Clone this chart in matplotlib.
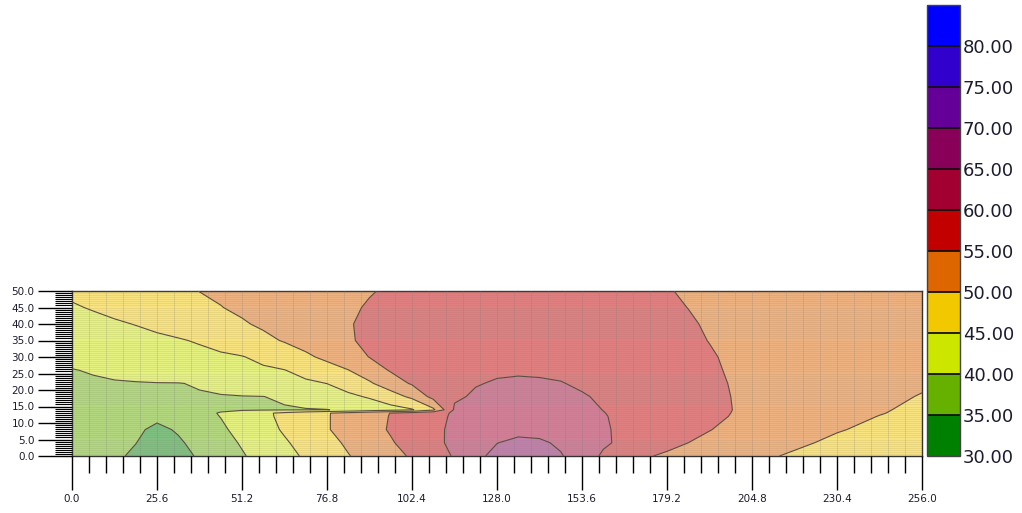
import numpy as np
import matplotlib
matplotlib.use("Agg")
import matplotlib.pyplot as plt
from matplotlib.colors import ListedColormap, BoundaryNorm
from matplotlib.ticker import MultipleLocator, FixedLocator, FormatStrFormatter, NullLocator
import matplotlib.cm as cm

# ---------------- data ----------------
x_nodes = [0, 6.4, 12.8, 19.2, 25.6, 32, 38.4, 44.8, 51.2, 57.6, 64, 70.4, 76.8,
           83.2, 89.6, 96, 102.4, 108.8, 115.2, 121.6, 128, 134.4, 140.8, 147.2,
           153.6, 160, 166.4, 172.8, 179.2, 185.6, 192, 198.4, 204.8, 217.6,
           230.4, 243.2, 256]
y_nodes = [0, 4, 8, 12, 13, 14, 18, 22, 26, 30, 35, 40, 45, 50]

z_y00 = [38.0, 37.5, 36.0, 34.0, 32.0, 33.3, 35.6, 37.6, 39.6, 41.6,
         43.6, 45.6, 47.7, 49.8, 51.7, 53.6, 55.5, 57.9, 60.4, 63.7,
         66.5, 67.8, 67.3, 65.4, 62.3, 59.4, 57.4, 55.4, 54.3, 53.5,
         52.7, 51.9, 51.1, 49.4, 48.4, 47.4, 46.5]
z_y04 = [38.3, 37.7, 36.5, 35.1, 32.5, 34.4, 36.4, 38.4, 40.4, 42.3,
         44.5, 46.5, 48.6, 50.7, 52.6, 54.6, 56.7, 58.9, 61.0, 63.0,
         64.9, 66.2, 65.8, 64.2, 62.4, 60.6, 59.1, 57.7, 56.3, 55.0,
         54.2, 53.3, 52.5, 50.8, 49.1, 48.0, 47.0]
z_y08 = [38.6, 38.2, 37.2, 35.8, 34.0, 35.45, 37.4, 39.3, 41.3, 43.4,
         45.5, 47.6, 49.7, 51.6, 53.5, 55.4, 57.3, 59.2, 60.7, 62.0,
         63.0, 63.5, 63.3, 62.6, 61.6, 60.4, 59.3, 58.3, 57.2, 56.2,
         55.1, 54.3, 53.5, 51.9, 50.3, 49.0, 48.0]
z_y12 = [38.8, 38.5, 37.8, 36.8, 36.0, 37.3, 38.6, 40.1, 42.0, 44.0,
         46.0, 47.9, 49.7, 51.6, 53.4, 55.2, 57.1, 58.9, 60.5, 61.4,
         62.1, 62.5, 62.3, 61.9, 61.2, 60.2, 59.3, 58.4, 57.5, 56.6,
         55.8, 54.9, 54.3, 52.8, 51.4, 49.9, 48.8]
z_y13 = [38.9, 38.6, 38.0, 37.1, 36.4, 37.4, 38.7, 40.3, 42.2, 44.1,
         46.0, 47.9, 49.7, 51.5, 53.3, 55.1, 57.0, 58.8, 60.4, 61.2,
         61.9, 62.2, 62.0, 61.6, 61.0, 60.1, 59.2, 58.4, 57.5, 56.7,
         55.8, 55.0, 54.3, 52.9, 51.5, 50.2, 48.9]
z_y14 = [39.0, 39.05, 39.1, 39.15, 39.2, 39.25, 39.3, 39.4, 39.5, 39.6,
         39.7, 39.8, 39.9, 40.7, 42.0, 43.3, 44.6, 49.1, 60.6, 61.1,
         61.7, 62.0, 61.8, 61.4, 60.8, 59.95, 59.1, 58.3, 57.5, 56.7,
         55.9, 55.05, 54.4, 53.0, 51.7, 50.4, 49.05]
z_y18 = [39.3, 39.37, 39.45, 39.52, 39.6, 39.67, 39.75, 39.8, 39.9, 39.96,
         40.5, 41.7, 42.9, 44.0, 45.5, 47.9, 51.0, 56.5, 59.4, 60.5,
         61.0, 61.3, 61.2, 60.9, 60.3, 59.5, 58.8, 58.0, 57.3, 56.5,
         55.8, 55.0, 54.4, 53.3, 52.1, 50.9, 49.8]
z_y22 = [39.6, 39.67, 39.75, 39.82, 39.89, 39.9, 40.25, 41.0, 41.8, 42.6,
         43.5, 44.3, 45.04, 47.2, 49.4, 52.6, 55.5, 56.9, 58.4, 59.8,
         60.3, 60.5, 60.4, 60.15, 59.5, 58.9, 58.2, 57.6, 56.9, 56.2,
         55.6, 54.9, 54.2, 53.3, 52.4, 51.5, 50.5]
z_y26 = [39.9, 40.2, 40.7, 41.2, 41.8, 42.3, 42.8, 43.3, 43.8, 44.4,
         44.9, 46.4, 48.1, 49.9, 52.6, 55.4, 56.8, 57.8, 58.6, 59.1,
         59.5, 59.6, 59.5, 59.3, 58.9, 58.5, 57.9, 57.3, 56.7, 56.1,
         55.5, 54.7, 54.1, 53.3, 52.6, 51.9, 51.3]
z_y30 = [40.8, 41.3, 41.8, 42.3, 42.8, 43.3, 43.8, 44.3, 44.8, 46.0,
         47.6, 49.2, 51.0, 53.0, 55.1, 56.4, 57.2, 57.7, 58.1, 58.4,
         58.6, 58.7, 58.6, 58.4, 58.1, 57.7, 57.2, 56.7, 56.2, 55.7,
         55.2, 54.7, 54.1, 53.4, 52.7, 52.0, 51.4]
z_y35 = [42.1, 42.6, 43.1, 43.6, 44.1, 44.65, 45.4, 46.6, 47.8, 49.05,
         50.3, 51.7, 53.2, 54.6, 55.8, 56.6, 57.1, 57.4, 57.7, 57.9,
         58.0, 58.0, 57.9, 57.7, 57.4, 57.0, 56.6, 56.2, 55.8, 55.4,
         54.95, 54.5, 54.0, 53.4, 52.8, 52.2, 51.6]
z_y40 = [43.3, 43.9, 44.5, 45.13, 46.0, 46.9, 47.8, 48.7, 49.6, 50.6,
         51.6, 52.7, 53.7, 54.8, 55.6, 56.2, 56.6, 56.9, 57.1, 57.3,
         57.4, 57.4, 57.3, 57.1, 56.9, 56.6, 56.3, 55.9, 55.6, 55.2,
         54.8, 54.4, 54.0, 53.4, 52.9, 52.4, 51.9]
z_y45 = [44.6, 45.3, 46.1, 46.8, 47.6, 48.4, 49.1, 49.9, 50.7, 51.4,
         52.2, 52.9, 53.7, 54.5, 55.3, 55.8, 56.2, 56.5, 56.7, 56.9,
         57.0, 57.0, 56.9, 56.7, 56.5, 56.2, 55.9, 55.6, 55.3, 54.98,
         54.6, 54.3, 54.0, 53.5, 53.0, 52.5, 52.0]
z_y50 = [45.8, 46.5, 47.2, 47.9, 48.6, 49.35, 50.05, 50.6, 51.2, 51.8,
         52.4, 53.0, 53.6, 54.2, 54.8, 55.4, 55.8, 56.1, 56.3, 56.5,
         56.6, 56.6, 56.5, 56.3, 56.1, 55.9, 55.6, 55.4, 55.1, 54.8,
         54.5, 54.2, 53.9, 53.5, 53.1, 52.7, 52.3]

levels = [30, 35, 40, 45, 50, 55, 60, 65, 70, 75, 80, 85]
band_colors = ["#008000", "#66b000", "#cce600", "#f2c800", "#dd6600", "#c20000",
               "#a20030", "#880058", "#640098", "#3200cc", "#0000ff"]
cbar_ticks = [30, 35, 40, 45, 50, 55, 60, 65, 70, 75, 80]
x_ticks = [0, 25.6, 51.2, 76.8, 102.4, 128.0, 153.6, 179.2, 204.8, 230.4, 256.0]
y_ticks = [0, 5, 10, 15, 20, 25, 30, 35, 40, 45, 50]

# ---------------- figure ----------------
W, H = 1022, 513
fig = plt.figure(figsize=(W / 100, H / 100), dpi=100)
ax = fig.add_axes([72 / W, 57 / H, 850 / W, 165 / H])

Z = np.array([z_y00, z_y04, z_y08, z_y12, z_y13, z_y14, z_y18, z_y22,
              z_y26, z_y30, z_y35, z_y40, z_y45, z_y50])

ax.contourf(x_nodes, y_nodes, Z, levels=levels, colors=band_colors,
            alpha=0.5, zorder=1, antialiased=True)
ax.contour(x_nodes, y_nodes, Z, levels=levels[1:-1], colors="#5c4e40",
           linewidths=0.8, zorder=4)

ax.set_xlim(0, 256)
ax.set_ylim(0, 50)

ax.xaxis.set_major_locator(FixedLocator(x_ticks))
ax.xaxis.set_minor_locator(MultipleLocator(5.12))
ax.yaxis.set_major_locator(FixedLocator(y_ticks))
ax.yaxis.set_minor_locator(MultipleLocator(0.625))
ax.xaxis.set_major_formatter(FormatStrFormatter("%.1f"))
ax.yaxis.set_major_formatter(FormatStrFormatter("%.1f"))

# mesh lines
ax.set_axisbelow(False)
ax.grid(which="both", axis="x", color="#7a7a7a", alpha=0.25, linewidth=0.6)
ax.grid(which="both", axis="y", color="#7a7a7a", alpha=0.18, linewidth=0.5)

ax.tick_params(axis="both", which="major", direction="out", length=24.5,
               width=1.0, color="black", labelsize=7.5, labelcolor="#1c1c30", pad=2.5)
ax.tick_params(axis="x", which="minor", direction="out", length=12,
               width=1.0, color="black")
ax.tick_params(axis="y", which="minor", direction="out", length=12,
               width=0.8, color="black")
for sp in ax.spines.values():
    sp.set_color("#333333")
    sp.set_linewidth(1.0)

# ---------------- colorbar ----------------
cax = fig.add_axes([927 / W, 57 / H, 33 / W, 451 / H])
cmap = ListedColormap(band_colors)
norm = BoundaryNorm(levels, cmap.N)
sm = cm.ScalarMappable(norm=norm, cmap=cmap)
cb = fig.colorbar(sm, cax=cax, ticks=cbar_ticks, drawedges=True,
                  format=FormatStrFormatter("%.2f"))
cb.ax.yaxis.set_minor_locator(NullLocator())
cb.dividers.set_color("#111111")
cb.dividers.set_linewidth(1.3)
cb.outline.set_edgecolor("#444444")
cb.outline.set_linewidth(1.0)
cb.ax.tick_params(which="both", length=0, labelsize=13, pad=2, labelcolor="#1c1c30")

fig.savefig("out.png", dpi=100)
